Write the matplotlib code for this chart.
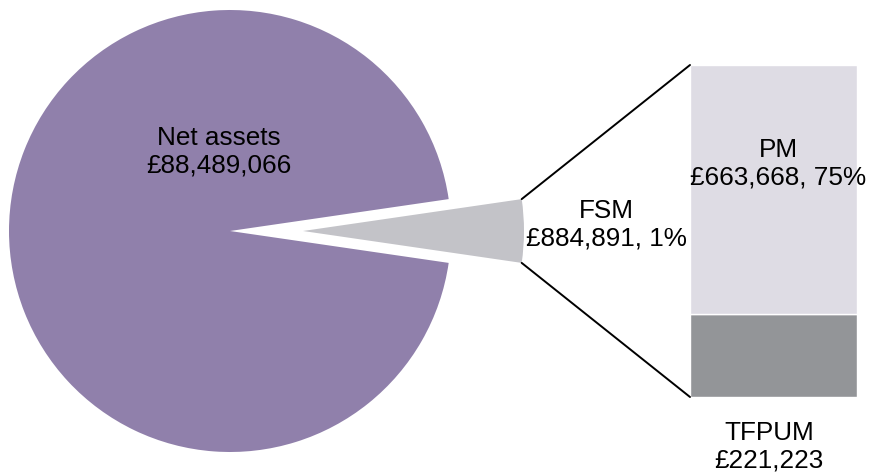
import numpy as np
import matplotlib.pyplot as plt
from matplotlib.patches import ConnectionPatch

plt.rcParams['font.family'] = ['Liberation Sans', 'DejaVu Sans']

# Data
pie_labels = ["Net assets", "FSM"]
net_assets = 88489066
fsm_total = 884891
bar_labels = ["PM", "TFPUM"]
bar_values = [663668, 221223]

# The small FSM slice is drawn wider than its true share so it can be seen
fsm_wedge_deg = 16.6

purple = "#9080ab"
fsm_grey = "#c3c3c8"
pm_grey = "#dedce4"
tfpum_grey = "#939598"
fs = 18.8

fig = plt.figure(figsize=(8.69, 4.75), dpi=100)

# Main axes in pixel units (y up)
ax = fig.add_axes([0, 0, 1, 1])
share = fsm_wedge_deg / 360.0
wedges, _ = ax.pie([1 - share, share], colors=[purple, fsm_grey],
                   startangle=fsm_wedge_deg / 2, counterclock=True,
                   center=(230, 244), radius=221, explode=[0, 73],
                   wedgeprops=dict(linewidth=0))
ax.set_xlim(0, 869)
ax.set_ylim(0, 475)
ax.set_aspect('auto')
ax.axis('off')

pct_fsm = fsm_total / (net_assets + fsm_total) * 100
bar_total = sum(bar_values)
pct_pm = bar_values[0] / bar_total * 100

# Bar of pie
bax = fig.add_axes([690 / 869, 78 / 475, 167 / 869, 332 / 475])
bax.bar(0, bar_values[1], width=1, color=tfpum_grey, edgecolor='white', linewidth=1)
bax.bar(0, bar_values[0], width=1, bottom=bar_values[1], color=pm_grey, edgecolor='white', linewidth=1)
bax.set_xlim(-0.5, 0.5)
bax.set_ylim(0, bar_total)
bax.axis('off')

# Labels (figure level so they sit above both axes)
fig.text(219, 323, f"{pie_labels[0]}\n£{net_assets:,}", ha='center', va='center',
         fontsize=fs, transform=ax.transData)
fig.text(606, 250, f"{pie_labels[1]}\n£{fsm_total:,}, {pct_fsm:.0f}%", ha='center', va='center',
         fontsize=fs, transform=ax.transData)
fig.text(778, 311, f"{bar_labels[0]}\n£{bar_values[0]:,}, {pct_pm:.0f}%", ha='center', va='center',
         fontsize=fs, transform=ax.transData)
fig.text(769, 28, f"{bar_labels[1]}\n£{bar_values[1]:,}", ha='center', va='center',
         fontsize=fs, transform=ax.transData)

# Connector lines from FSM slice to bar corners
w = wedges[1]
cx, cy = w.center
for theta, yb in [(w.theta2, bar_total), (w.theta1, 0)]:
    px = cx + w.r * np.cos(np.radians(theta))
    py = cy + w.r * np.sin(np.radians(theta))
    con = ConnectionPatch(xyA=(px, py), coordsA=ax.transData,
                          xyB=(-0.5, yb), coordsB=bax.transData,
                          color='black', linewidth=1.4)
    fig.add_artist(con)

plt.savefig("out.png", dpi=100)
